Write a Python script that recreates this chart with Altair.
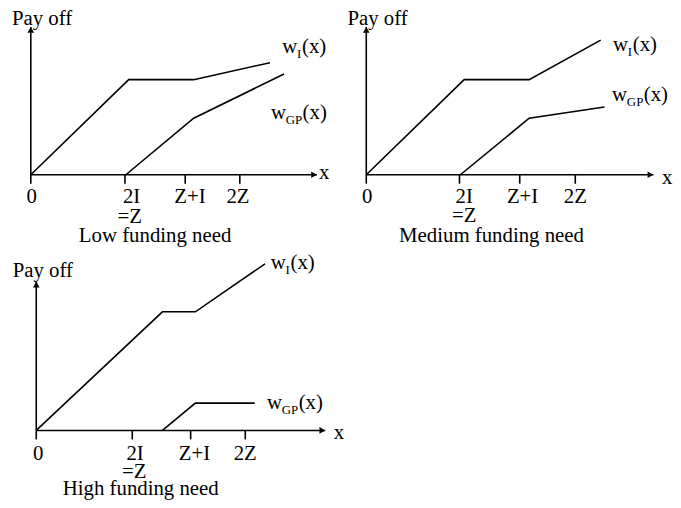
import altair as alt
import pandas as pd

# ---------------- data (diagram units; origin of each panel at 0,0) ----------------
PANEL_TITLES = ["Low funding need", "Medium funding need", "High funding need"]
TICK_LABELS = ["0", "2I", "Z+I", "2Z"]
EQ_LABEL = "=Z"
Y_TITLE = "Pay off"
X_TITLE = "x"

# w_I(x) and w_GP(x) vertices, low funding need
LOW_WI_X = [0.0, 1.04, 1.73, 2.54]
LOW_WI_Y = [0.0, 1.01, 1.01, 1.19]
LOW_WGP_X = [1.01, 1.73, 2.69]
LOW_WGP_Y = [0.0, 0.60, 1.07]
# medium funding need
MED_WI_X = [0.0, 1.04, 1.73, 2.49]
MED_WI_Y = [0.0, 1.01, 1.01, 1.43]
MED_WGP_X = [1.0, 1.73, 2.53]
MED_WGP_Y = [0.0, 0.60, 0.72]
# high funding need
HIGH_WI_X = [0.0, 1.34, 1.69, 2.43]
HIGH_WI_Y = [0.0, 1.26, 1.26, 1.77]
HIGH_WGP_X = [1.34, 1.69, 2.32]
HIGH_WGP_Y = [0.0, 0.29, 0.29]

# tick positions on the x axis
LOW_TICKS = [0.0, 1.0, 1.64, 2.22]
MED_TICKS = [0.0, 0.99, 1.63, 2.22]
HIGH_TICKS = [0.0, 1.02, 1.64, 2.22]

# axis extents (x axis end, y axis end)
LOW_AXIS_END = [3.04, 1.57]
MED_AXIS_END = [3.05, 1.57]
HIGH_AXIS_END = [3.07, 1.58]

# tick label centres
LOW_TICK_LABEL_X = [0.01, 1.07, 1.69, 2.2]
MED_TICK_LABEL_X = [0.01, 1.04, 1.66, 2.22]
HIGH_TICK_LABEL_X = [0.02, 1.05, 1.68, 2.22]

# ---------------- layout (pixels) ----------------
UNIT = 95.0
FONT = "Liberation Serif"
FS = 21
SUB_FS = 13


def make_panel(title, wi, wgp, ticks, tick_lab_x, axis_end, lab, W, H, ox, oy):
    xdom = [-ox / UNIT, (W - ox) / UNIT]
    ydom = [-(H - oy) / UNIT, oy / UNIT]
    xs = alt.Scale(domain=xdom, nice=False, zero=False)
    ys = alt.Scale(domain=ydom, nice=False, zero=False)

    def X(f="x"):
        return alt.X(f"{f}:Q", scale=xs, axis=None)

    def Y(f="y"):
        return alt.Y(f"{f}:Q", scale=ys, axis=None)

    curves = pd.DataFrame(
        [{"s": "wI", "i": i, "x": x, "y": y} for i, (x, y) in enumerate(zip(*wi))]
        + [{"s": "wGP", "i": i, "x": x, "y": y} for i, (x, y) in enumerate(zip(*wgp))]
    )
    lines = alt.Chart(curves).mark_line(color="black", strokeWidth=1.6).encode(
        x=X(), y=Y(), detail="s:N", order="i:Q"
    )

    tick_len = 0.095
    axes_df = pd.DataFrame(
        [
            {"x": 0.0, "y": 0.0, "x2": axis_end[0], "y2": 0.0},
            {"x": 0.0, "y": -tick_len, "x2": 0.0, "y2": axis_end[1]},
        ]
        + [{"x": t, "y": 0.0, "x2": t, "y2": -tick_len} for t in ticks[1:]]
    )
    axes = alt.Chart(axes_df).mark_rule(color="black", strokeWidth=1.6).encode(
        x=X(), y=Y(), x2="x2:Q", y2="y2:Q"
    )

    arr_x = alt.Chart(pd.DataFrame({"x": [axis_end[0]], "y": [0.0]})).mark_point(
        shape="triangle-right", filled=True, color="black", size=45, opacity=1, xOffset=-3
    ).encode(x=X(), y=Y())
    arr_y = alt.Chart(pd.DataFrame({"x": [0.0], "y": [axis_end[1]]})).mark_point(
        shape="triangle-up", filled=True, color="black", size=45, opacity=1, yOffset=3
    ).encode(x=X(), y=Y())

    def txt(df, **kw):
        base = dict(font=FONT, fontSize=FS, baseline="alphabetic", color="black")
        base.update(kw)
        return alt.Chart(pd.DataFrame(df)).mark_text(**base).encode(
            x=X(), y=Y(), text="t:N"
        )

    layers = [axes, arr_x, arr_y, lines]
    layers.append(txt({"x": tick_lab_x, "y": [lab["tick_y"]] * 4, "t": TICK_LABELS}, align="center"))
    layers.append(txt({"x": [lab["eq"][0]], "y": [lab["eq"][1]], "t": [EQ_LABEL]}, align="center"))
    layers.append(txt({"x": [lab["title"][0]], "y": [lab["title"][1]], "t": [title]}, align="center"))
    layers.append(txt({"x": [lab["payoff"][0]], "y": [lab["payoff"][1]], "t": [Y_TITLE]}, align="left"))
    layers.append(txt({"x": [lab["xlab"][0]], "y": [lab["xlab"][1]], "t": [X_TITLE]}, align="left"))
    # w_I(x)
    wx, wy = lab["wi"]
    layers.append(txt({"x": [wx], "y": [wy], "t": ["w"]}, align="left"))
    layers.append(txt({"x": [wx], "y": [wy], "t": ["I"]}, align="left", dx=15, dy=5, fontSize=SUB_FS))
    layers.append(txt({"x": [wx], "y": [wy], "t": ["(x)"]}, align="left", dx=20))
    # w_GP(x)
    gx, gy = lab["wgp"]
    layers.append(txt({"x": [gx], "y": [gy], "t": ["w"]}, align="left"))
    layers.append(txt({"x": [gx], "y": [gy], "t": ["GP"]}, align="left", dx=15, dy=5, fontSize=SUB_FS))
    layers.append(txt({"x": [gx], "y": [gy], "t": ["(x)"]}, align="left", dx=32))

    return alt.layer(*layers).properties(width=W, height=H)


p1 = make_panel(
    PANEL_TITLES[0], (LOW_WI_X, LOW_WI_Y), (LOW_WGP_X, LOW_WGP_Y), LOW_TICKS,
    LOW_TICK_LABEL_X, LOW_AXIS_END,
    dict(tick_y=-0.305, eq=(1.05, -0.516), title=(1.32, -0.716), payoff=(-0.2, 1.589),
         xlab=(3.06, -0.04), wi=(2.67, 1.29), wgp=(2.55, 0.59)),
    332, 250, 23, 166,
)
p2 = make_panel(
    PANEL_TITLES[1], (MED_WI_X, MED_WI_Y), (MED_WGP_X, MED_WGP_Y), MED_TICKS,
    MED_TICK_LABEL_X, MED_AXIS_END,
    dict(tick_y=-0.305, eq=(1.04, -0.505), title=(1.33, -0.716), payoff=(-0.2, 1.589),
         xlab=(3.14, -0.095), wi=(2.62, 1.31), wgp=(2.61, 0.78)),
    332, 250, 29.5, 166,
)
p3 = make_panel(
    PANEL_TITLES[2], (HIGH_WI_X, HIGH_WI_Y), (HIGH_WGP_X, HIGH_WGP_Y), HIGH_TICKS,
    HIGH_TICK_LABEL_X, HIGH_AXIS_END,
    dict(tick_y=-0.316, eq=(1.04, -0.505), title=(1.11, -0.684), payoff=(-0.25, 1.63),
         xlab=(3.16, -0.09), wi=(2.49, 1.71), wgp=(2.45, 0.23)),
    332, 250, 28.5, 174,
)

chart = (
    alt.concat(p1, p2, p3, columns=2, spacing=0, bounds="flush")
    .properties(padding={"top": -2, "left": 0, "right": 0, "bottom": 0})
    .configure_view(strokeWidth=0)
)

chart.save("out.html", embed_options={"renderer": "svg", "actions": False})
